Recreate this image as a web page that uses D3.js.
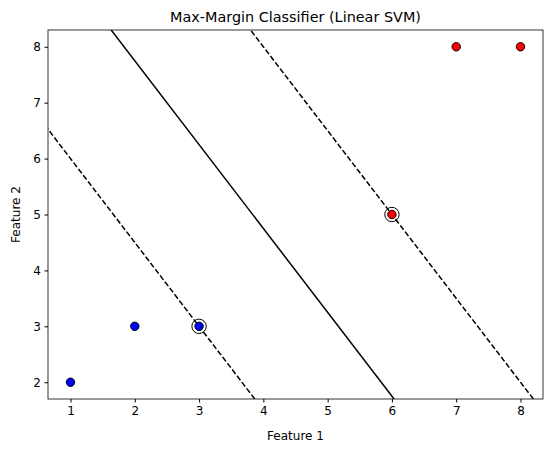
<!DOCTYPE html>
<html>
<head>
<meta charset="utf-8">
<script src="https://cdn.jsdelivr.net/npm/d3@7"></script>
<style>
  body { margin: 0; background: #fff; }
  text { font-family: "DejaVu Sans", sans-serif; }
</style>
</head>
<body>
<div id="graph"></div>
<script>
// data
const pointsX = [1, 2, 3, 6, 7, 8];
const pointsY = [2, 3, 3, 5, 8, 8];
const pointClass = [0, 0, 0, 1, 1, 1];
const supportX = [3, 6];
const supportY = [3, 5];
const weights = [6 / 13, 4 / 13];
const bias = -43 / 13;
const levels = [-1, 0, 1];
const xTicks = [1, 2, 3, 4, 5, 6, 7, 8];
const yTicks = [2, 3, 4, 5, 6, 7, 8];

const width = 554, height = 453;
const margin = { left: 48, right: 11, top: 30, bottom: 54 };

const svg = d3.select("#graph").append("svg")
    .attr("width", width).attr("height", height);

const x = d3.scaleLinear().domain([0.65, 8.35]).range([margin.left, width - margin.right]);
const y = d3.scaleLinear().domain([1.7, 8.3]).range([height - margin.bottom, margin.top]);

svg.append("clipPath").attr("id", "clip").append("rect")
    .attr("x", margin.left).attr("y", margin.top)
    .attr("width", width - margin.left - margin.right)
    .attr("height", height - margin.top - margin.bottom);

// decision boundary and margins
const plot = svg.append("g").attr("clip-path", "url(#clip)");
levels.forEach(lv => {
    const [y0, y1] = y.domain();
    const xAt = yy => (lv - bias - weights[1] * yy) / weights[0];
    plot.append("line")
        .attr("x1", x(xAt(y0))).attr("y1", y(y0))
        .attr("x2", x(xAt(y1))).attr("y2", y(y1))
        .attr("stroke", "black").attr("stroke-width", 1.5)
        .attr("stroke-dasharray", lv === 0 ? null : "5.5,2.4");
});

// points
plot.selectAll(".pt").data(pointsX).join("circle")
    .attr("cx", (d, i) => x(d)).attr("cy", (d, i) => y(pointsY[i]))
    .attr("r", 4.2)
    .attr("fill", (d, i) => pointClass[i] ? "red" : "blue")
    .attr("stroke", "black").attr("stroke-width", 1);

plot.selectAll(".sv").data(supportX).join("circle")
    .attr("cx", d => x(d)).attr("cy", (d, i) => y(supportY[i]))
    .attr("r", 7.2).attr("fill", "none")
    .attr("stroke", "black").attr("stroke-width", 1);

// axes
const xAxis = svg.append("g").attr("transform", `translate(0,${height - margin.bottom})`)
    .call(d3.axisBottom(x).tickValues(xTicks).tickSize(3.5).tickPadding(3.5).tickFormat(d3.format("d")));
const yAxis = svg.append("g").attr("transform", `translate(${margin.left},0)`)
    .call(d3.axisLeft(y).tickValues(yTicks).tickSize(3.5).tickPadding(3.5).tickFormat(d3.format("d")));
[xAxis, yAxis].forEach(a => {
    a.select(".domain").remove();
    a.selectAll("text").attr("font-size", 12).attr("font-family", "DejaVu Sans").attr("fill", "black");
    a.selectAll("line").attr("stroke", "black");
});

svg.append("rect")
    .attr("x", margin.left).attr("y", margin.top)
    .attr("width", width - margin.left - margin.right)
    .attr("height", height - margin.top - margin.bottom)
    .attr("fill", "none").attr("stroke", "black").attr("stroke-width", 0.8);

svg.append("text").attr("x", (margin.left + width - margin.right) / 2).attr("y", 22)
    .attr("text-anchor", "middle").attr("font-size", 14.4).text("Max-Margin Classifier (Linear SVM)");
svg.append("text").attr("x", (margin.left + width - margin.right) / 2).attr("y", 440)
    .attr("text-anchor", "middle").attr("font-size", 12).text("Feature 1");
svg.append("text").attr("transform", `translate(20,${(margin.top + height - margin.bottom) / 2}) rotate(-90)`)
    .attr("text-anchor", "middle").attr("font-size", 12).text("Feature 2");
</script>
</body>
</html>
